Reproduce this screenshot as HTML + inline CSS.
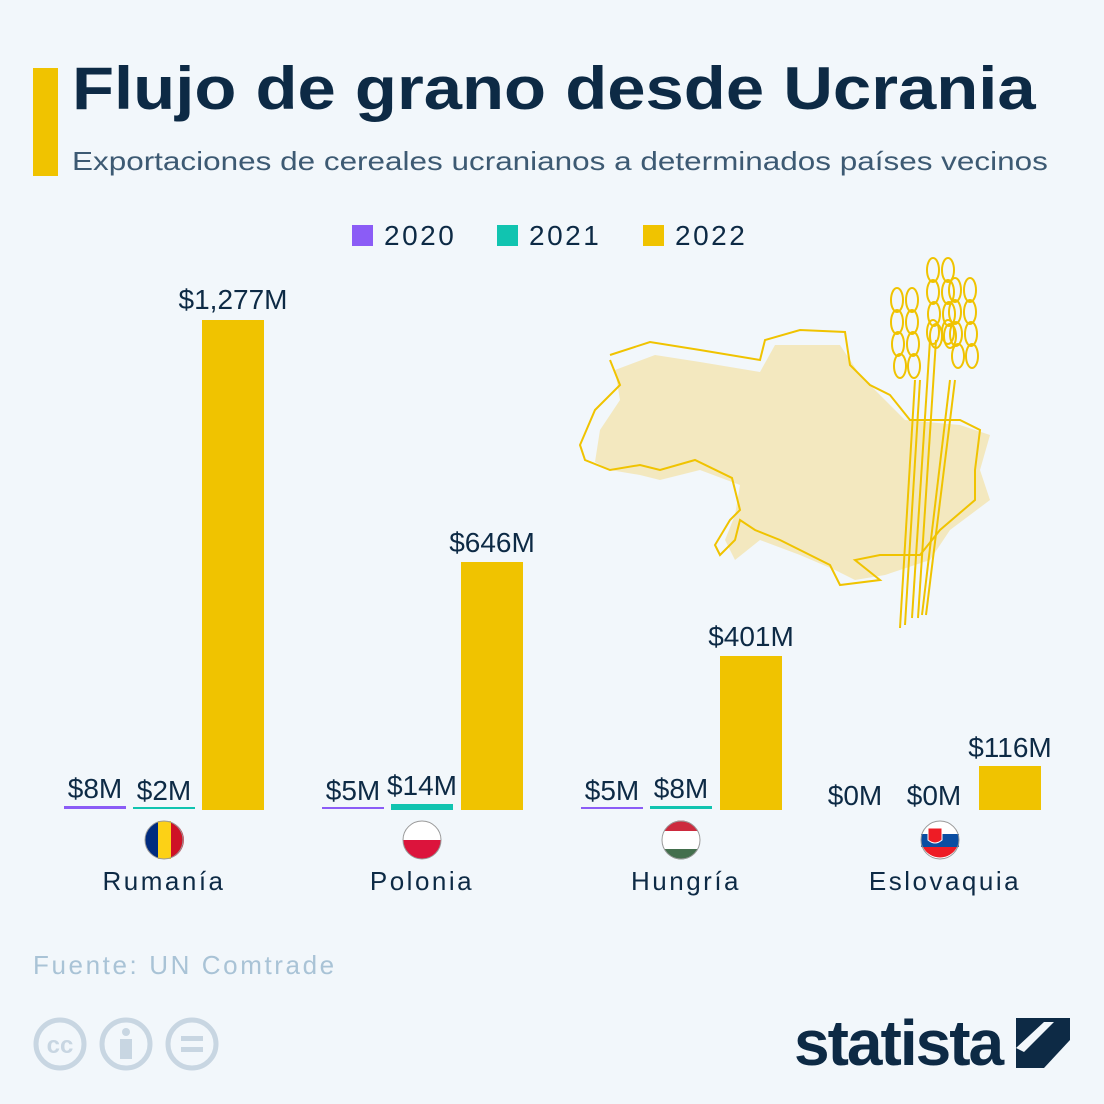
<!DOCTYPE html>
<html><head><meta charset="utf-8"><style>
body{margin:0;width:1104px;height:1104px;background:#f2f7fb;font-family:"Liberation Sans",sans-serif;position:relative;overflow:hidden;color:#0d2a45}
.a{position:absolute}
.lbl{position:absolute;font-size:28px;text-align:center;width:120px;color:#0d2a45}
.cn{position:absolute;font-size:26px;text-align:center;width:200px;top:866px;letter-spacing:2.5px}
.bar{position:absolute;background:#f0c300}
.lg{position:absolute;top:220px;font-size:28px;letter-spacing:2.5px}
</style></head><body>
<div class="a" style="left:33px;top:68px;width:25px;height:108px;background:#f0c300"></div>
<div class="a" style="left:72px;top:54px;font-size:60px;font-weight:bold;transform:scaleX(1.147);transform-origin:0 0;white-space:nowrap">Flujo de grano desde Ucrania</div>
<div class="a" style="left:72px;top:146px;font-size:26px;color:#3d5a73;transform:scaleX(1.21);transform-origin:0 0;white-space:nowrap">Exportaciones de cereales ucranianos a determinados países vecinos</div>
<div class="a" style="left:352px;top:225px;width:21px;height:21px;background:#8b5cf6"></div>
<div class="lg" style="left:384px">2020</div>
<div class="a" style="left:497px;top:225px;width:21px;height:21px;background:#11c4b0"></div>
<div class="lg" style="left:529px">2021</div>
<div class="a" style="left:643px;top:225px;width:21px;height:21px;background:#f0c300"></div>
<div class="lg" style="left:675px">2022</div>

<svg class="a" style="left:0;top:0" width="1104" height="1104">
<polygon points="615,370 655,355 700,362 760,372 775,345 840,345 860,375 880,395 905,420 960,425 990,435 980,470 990,500 950,530 930,560 885,575 855,580 835,570 800,555 760,540 735,560 725,540 735,515 740,485 700,470 660,480 640,475 610,470 595,462 600,430 620,400" fill="#f3e8bf"/>
<polyline points="610,355 650,342 700,350 760,360 765,340 800,330 845,332 850,365 870,385 890,395 910,420 960,420 980,430 975,470 975,500 940,530 920,555 880,555 855,560 880,580 840,585 830,565 810,555 780,540 755,530 740,520 735,540 720,555 715,545 730,520 740,510 732,478 695,460 660,470 640,465 610,470 585,460 580,445 595,410 620,385 610,360" fill="none" stroke="#f0c300" stroke-width="2"/>
<g stroke="#f0c300" stroke-width="2" fill="none">
<line x1="900" y1="628" x2="915" y2="380"/><line x1="905" y1="625" x2="920" y2="380"/>
<line x1="912" y1="618" x2="930" y2="340"/><line x1="918" y1="618" x2="936" y2="340"/>
<line x1="922" y1="615" x2="950" y2="380"/><line x1="926" y1="615" x2="955" y2="380"/>
<g id="s1"><ellipse cx="897" cy="300" rx="6" ry="12"/><ellipse cx="912" cy="300" rx="6" ry="12"/><ellipse cx="897" cy="322" rx="6" ry="12"/><ellipse cx="912" cy="322" rx="6" ry="12"/><ellipse cx="898" cy="344" rx="6" ry="12"/><ellipse cx="913" cy="344" rx="6" ry="12"/><ellipse cx="900" cy="366" rx="6" ry="12"/><ellipse cx="914" cy="366" rx="6" ry="12"/></g>
<g transform="translate(36,-30)"><use href="#s1"/></g>
<g transform="translate(58,-10)"><use href="#s1"/></g>
<g transform="translate(36,10)"><ellipse cx="897" cy="322" rx="6" ry="12"/><ellipse cx="912" cy="322" rx="6" ry="12"/></g>
</g>
<g>
<circle cx="164" cy="840" r="19" fill="#002b7f"/><rect x="158" y="821" width="13" height="38" fill="#fcd116"/><path d="M171,822 A19,19 0 0 1 171,858 Z" fill="#ce1126"/><circle cx="164" cy="840" r="19" fill="none" stroke="#999" stroke-width="1"/>
<circle cx="422" cy="840" r="19" fill="#fff"/><path d="M403,840 A19,19 0 0 0 441,840 Z" fill="#dc143c"/><circle cx="422" cy="840" r="19" fill="none" stroke="#999"/>
<circle cx="681" cy="840" r="19" fill="#fff"/><path d="M664,831 A19,19 0 0 1 698,831 Z" fill="#cd2a3e"/><path d="M664,849 A19,19 0 0 0 698,849 Z" fill="#436f4d"/><circle cx="681" cy="840" r="19" fill="none" stroke="#999"/>
<circle cx="940" cy="840" r="19" fill="#fff"/><rect x="921" y="834" width="38" height="13" fill="#0b4ea2"/><path d="M923,847 A19,19 0 0 0 957,847 Z" fill="#ee1c25"/><path d="M928,828 h14 v12 q-7,6 -14,0z" fill="#ee1c25" stroke="#fff"/><circle cx="940" cy="840" r="19" fill="none" stroke="#999"/>
</g>
<g fill="none" stroke="#c8d6e2" stroke-width="5">
<circle cx="60" cy="1044" r="24"/><circle cx="126" cy="1044" r="24"/><circle cx="192" cy="1044" r="24"/></g>
<text x="60" y="1053" font-size="24" font-weight="bold" fill="#c8d6e2" text-anchor="middle" font-family="Liberation Sans">cc</text>
<circle cx="126" cy="1032" r="4" fill="#c8d6e2"/><rect x="120" y="1039" width="12" height="20" fill="#c8d6e2"/>
<rect x="181" y="1036" width="22" height="5" fill="#c8d6e2"/><rect x="181" y="1047" width="22" height="5" fill="#c8d6e2"/>
<path d="M1016,1018 h54 v22 l-26,28 h-28 v-22 z" fill="#0d2a45"/><path d="M1016,1048 L1044,1022 h10 L1024,1052 Z" fill="#f2f7fb"/>
</svg>

<div class="bar" style="left:202px;top:320px;width:62px;height:490px"></div>
<div class="bar" style="left:461px;top:562px;width:62px;height:248px"></div>
<div class="bar" style="left:720px;top:656px;width:62px;height:154px"></div>
<div class="bar" style="left:979px;top:766px;width:62px;height:44px"></div>
<div class="a" style="left:64px;top:806px;width:62px;height:3px;background:#8b5cf6"></div>
<div class="a" style="left:133px;top:807px;width:62px;height:2px;background:#11c4b0"></div>
<div class="a" style="left:322px;top:807px;width:62px;height:2px;background:#8b5cf6"></div>
<div class="a" style="left:391px;top:804px;width:62px;height:6px;background:#11c4b0"></div>
<div class="a" style="left:581px;top:807px;width:62px;height:2px;background:#8b5cf6"></div>
<div class="a" style="left:650px;top:806px;width:62px;height:3px;background:#11c4b0"></div>

<div class="lbl" style="left:173px;top:284px">$1,277M</div>
<div class="lbl" style="left:432px;top:527px">$646M</div>
<div class="lbl" style="left:691px;top:621px">$401M</div>
<div class="lbl" style="left:950px;top:732px">$116M</div>
<div class="lbl" style="left:35px;top:773px">$8M</div>
<div class="lbl" style="left:104px;top:775px">$2M</div>
<div class="lbl" style="left:293px;top:775px">$5M</div>
<div class="lbl" style="left:362px;top:770px">$14M</div>
<div class="lbl" style="left:552px;top:775px">$5M</div>
<div class="lbl" style="left:621px;top:773px">$8M</div>
<div class="lbl" style="left:795px;top:780px">$0M</div>
<div class="lbl" style="left:874px;top:780px">$0M</div>

<div class="cn" style="left:64px">Rumanía</div>
<div class="cn" style="left:322px">Polonia</div>
<div class="cn" style="left:586px">Hungría</div>
<div class="cn" style="left:845px">Eslovaquia</div>

<div class="a" style="left:33px;top:950px;font-size:26px;color:#a9c3d6;letter-spacing:2.6px">Fuente: UN Comtrade</div>
<div class="a" style="left:794px;top:1006px;font-size:64px;font-weight:bold;color:#0d2a45;letter-spacing:-2px">statista</div>
</body></html>
